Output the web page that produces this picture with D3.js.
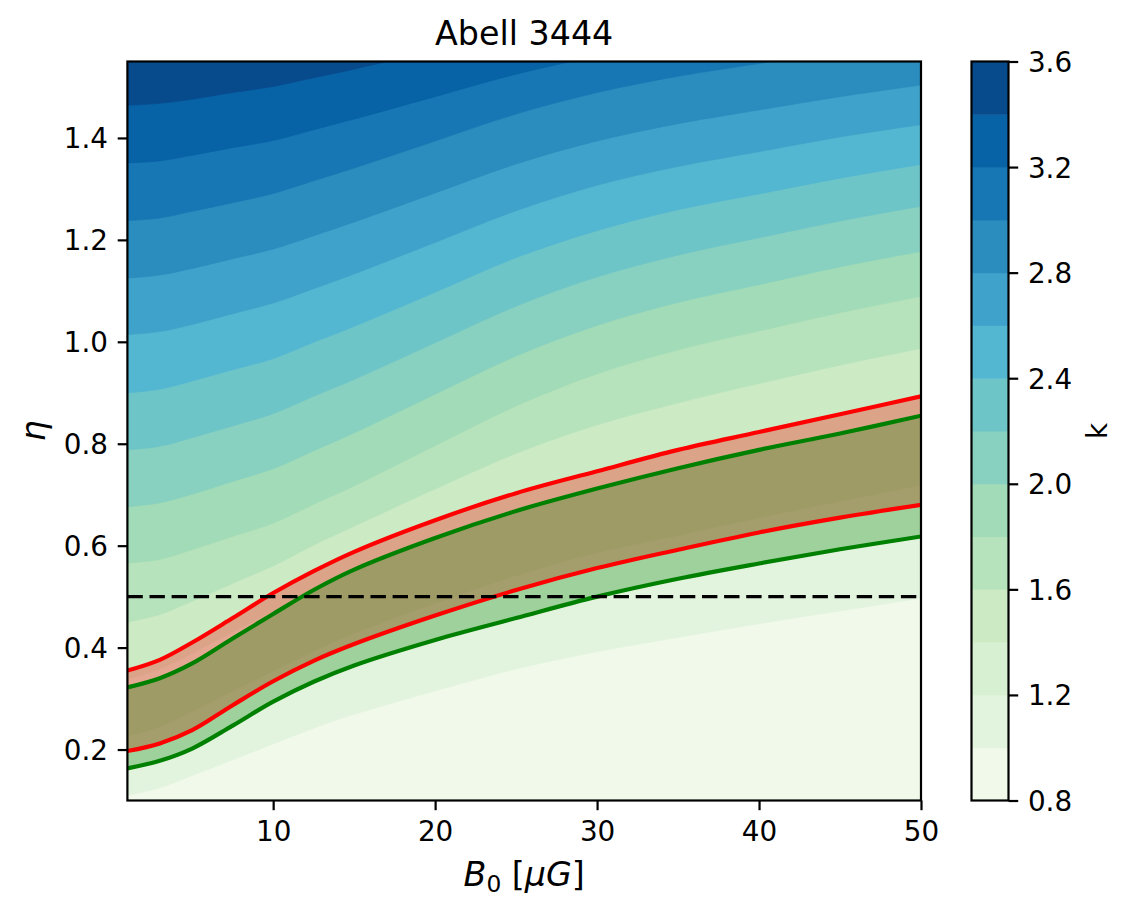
<!DOCTYPE html>
<html>
<head>
<meta charset="utf-8">
<script src="https://cdn.jsdelivr.net/npm/d3@7"></script>
<style>
  body { margin: 0; background: #fff; }
  svg { display: block; }
  text { font-family: "DejaVu Sans", sans-serif; fill: #000; }
</style>
</head>
<body>
<svg id="chart" width="1135" height="917"></svg>
<script>
// ---------------- data ----------------
const B0 = [1, 3, 5, 7.5, 10, 12.5, 15, 20, 25, 30, 35, 40, 45, 50];
const levels = [0.8, 1.0, 1.2, 1.4, 1.6, 1.8, 2.0, 2.2, 2.4, 2.6, 2.8, 3.0, 3.2, 3.4, 3.6];

// eta of each contour level line (k = 1.0 ... 3.4) at the B0 samples
const k10 = [0.110, 0.125, 0.149, 0.180, 0.211, 0.242, 0.269, 0.315, 0.358, 0.392, 0.420, 0.447, 0.472, 0.497];
const k12 = [0.226, 0.245, 0.275, 0.315, 0.354, 0.393, 0.428, 0.487, 0.541, 0.586, 0.620, 0.655, 0.687, 0.719];
const k14 = [0.338, 0.358, 0.389, 0.430, 0.472, 0.513, 0.549, 0.611, 0.667, 0.714, 0.750, 0.786, 0.819, 0.853];
const k16 = [0.450, 0.465, 0.491, 0.526, 0.560, 0.601, 0.638, 0.711, 0.781, 0.837, 0.880, 0.918, 0.954, 0.987];
const k18 = [0.566, 0.573, 0.592, 0.618, 0.644, 0.681, 0.717, 0.796, 0.874, 0.937, 0.984, 1.021, 1.057, 1.089];
const k20 = [0.676, 0.684, 0.701, 0.726, 0.751, 0.786, 0.821, 0.897, 0.972, 1.032, 1.077, 1.112, 1.147, 1.177];
const k22 = [0.788, 0.795, 0.812, 0.835, 0.859, 0.893, 0.926, 0.998, 1.070, 1.127, 1.170, 1.204, 1.237, 1.266];
const k24 = [0.900, 0.907, 0.923, 0.945, 0.967, 0.999, 1.030, 1.097, 1.165, 1.218, 1.259, 1.290, 1.321, 1.348];
const k26 = [1.014, 1.020, 1.034, 1.055, 1.076, 1.104, 1.133, 1.195, 1.257, 1.307, 1.344, 1.373, 1.402, 1.426];
const k28 = [1.125, 1.131, 1.144, 1.163, 1.182, 1.208, 1.235, 1.292, 1.349, 1.394, 1.428, 1.455, 1.481, 1.504];
const k30 = [1.238, 1.243, 1.256, 1.273, 1.291, 1.316, 1.341, 1.394, 1.447, 1.489, 1.521, 1.546, 1.571, 1.592];
const k32 = [1.351, 1.355, 1.366, 1.381, 1.395, 1.416, 1.437, 1.481, 1.525, 1.560, 1.587, 1.608, 1.628, 1.646];
const k34 = [1.464, 1.468, 1.476, 1.489, 1.501, 1.518, 1.535, 1.572, 1.609, 1.639, 1.661, 1.678, 1.695, 1.710];

// constraint bands
const redUpper   = [0.355, 0.376, 0.410, 0.458, 0.507, 0.550, 0.588, 0.650, 0.703, 0.746, 0.788, 0.823, 0.858, 0.893];
const redLower   = [0.197, 0.212, 0.238, 0.287, 0.334, 0.374, 0.407, 0.463, 0.513, 0.556, 0.592, 0.626, 0.655, 0.680];
const greenUpper = [0.322, 0.340, 0.369, 0.418, 0.466, 0.513, 0.553, 0.615, 0.668, 0.712, 0.752, 0.788, 0.820, 0.855];
const greenLower = [0.163, 0.178, 0.202, 0.247, 0.294, 0.333, 0.365, 0.415, 0.458, 0.500, 0.535, 0.565, 0.593, 0.618];

const etaRef = 0.5;

const xTicks = [10, 20, 30, 40, 50];
const yTicks = [0.2, 0.4, 0.6, 0.8, 1.0, 1.2, 1.4];
const cbTicks = [0.8, 1.2, 1.6, 2.0, 2.4, 2.8, 3.2, 3.6];

const titleText = "Abell 3444";
const cbLabel = "k";

// ---------------- style ----------------
const GnBu = ["#f7fcf0", "#e0f3db", "#ccebc5", "#a8ddb5", "#7bccc4", "#4eb3d3", "#2b8cbe", "#0868ac", "#084081"];
const cmap = d3.scaleLinear()
  .domain(d3.range(9).map(i => i / 8))
  .range(GnBu)
  .interpolate(d3.interpolateRgb)
  .clamp(true);

const P = { l: 127.4, r: 921, t: 61.5, b: 800.5 };
const CB = { l: 971.5, r: 1008.5 };
const FS = 27.8, FL = 33.3;
const TICK = 9.7, PAD = 9.7, LW = 2.2;
const CURVE = d3.curveCatmullRom.alpha(0.5);

const svg = d3.select("#chart");
svg.append("rect").attr("width", 1135).attr("height", 917).attr("fill", "#fff");

const x = d3.scaleLinear().domain([1, 50]).range([P.l, P.r]);
const y = d3.scaleLinear().domain([0.1, 1.55]).range([P.b, P.t]);

const vmin = levels[0], vmax = levels[levels.length - 1];
const bandColor = i => cmap(((levels[i] + levels[i + 1]) / 2 - vmin) / (vmax - vmin));

svg.append("defs").append("clipPath").attr("id", "clip")
  .append("rect").attr("x", P.l).attr("y", P.t).attr("width", P.r - P.l).attr("height", P.b - P.t);

const gPlot = svg.append("g").attr("clip-path", "url(#clip)");

// lowest band as background
gPlot.append("rect").attr("x", P.l).attr("y", P.t).attr("width", P.r - P.l).attr("height", P.b - P.t)
  .attr("fill", bandColor(0));

const contourLines = [k10, k12, k14, k16, k18, k20, k22, k24, k26, k28, k30, k32, k34];
const aboveArea = d3.area()
  .x((d, i) => x(B0[i]))
  .y0(d => y(d))
  .y1(() => P.t - 20)
  .curve(CURVE);

contourLines.forEach((line, j) => {
  gPlot.append("path").attr("d", aboveArea(line)).attr("fill", bandColor(j + 1))
    .attr("stroke", bandColor(j + 1)).attr("stroke-width", 0.6);
});

// bands
const bandArea = (lo, hi) => d3.area()
  .x((d, i) => x(B0[i]))
  .y0((d, i) => y(lo[i]))
  .y1((d, i) => y(hi[i]))
  .curve(CURVE)(B0);
const lineGen = d3.line().x((d, i) => x(B0[i])).y(d => y(d)).curve(CURVE);

gPlot.append("path").attr("d", bandArea(redLower, redUpper)).attr("fill", "#ff0000").attr("fill-opacity", 0.3);
gPlot.append("path").attr("d", bandArea(greenLower, greenUpper)).attr("fill", "#008000").attr("fill-opacity", 0.3);

[redUpper, redLower].forEach(s => gPlot.append("path").attr("d", lineGen(s))
  .attr("fill", "none").attr("stroke", "#ff0000").attr("stroke-width", 4.17));
[greenUpper, greenLower].forEach(s => gPlot.append("path").attr("d", lineGen(s))
  .attr("fill", "none").attr("stroke", "#008000").attr("stroke-width", 4.17));

gPlot.append("line").attr("x1", x(1)).attr("x2", x(50)).attr("y1", y(etaRef)).attr("y2", y(etaRef))
  .attr("stroke", "#000").attr("stroke-width", 3.2).attr("stroke-dasharray", "15.4,6.7");

// spines
svg.append("rect").attr("x", P.l).attr("y", P.t).attr("width", P.r - P.l).attr("height", P.b - P.t)
  .attr("fill", "none").attr("stroke", "#000").attr("stroke-width", LW);

// axes
function styleAxis(g) {
  g.select(".domain").remove();
  g.selectAll(".tick line").attr("stroke", "#000").attr("stroke-width", LW);
  g.selectAll(".tick text").attr("font-size", FS).attr("fill", "#000")
    .attr("font-family", '"DejaVu Sans", sans-serif');
}
const xAxis = svg.append("g").attr("transform", `translate(0,${P.b})`)
  .call(d3.axisBottom(x).tickValues(xTicks).tickSize(TICK).tickPadding(PAD + 1.4).tickFormat(d3.format("d")));
styleAxis(xAxis);

const yAxis = svg.append("g").attr("transform", `translate(${P.l},0)`)
  .call(d3.axisLeft(y).tickValues(yTicks).tickSize(TICK).tickPadding(PAD).tickFormat(d3.format(".1f")));
styleAxis(yAxis);
yAxis.selectAll(".tick text").attr("dy", "0.36em");

// title
svg.append("text").attr("x", (P.l + P.r) / 2).attr("y", 44.8).attr("text-anchor", "middle")
  .attr("font-size", FL).text(titleText);

// x label  B0 [muG]
const xl = svg.append("text").attr("x", (P.l + P.r) / 2).attr("y", 886).attr("text-anchor", "middle")
  .attr("font-size", FL);
xl.append("tspan").attr("font-style", "italic").text("B");
xl.append("tspan").attr("font-size", FL * 0.7).attr("dy", 6).text("0");
xl.append("tspan").attr("dy", -6).text(" [");
xl.append("tspan").attr("font-style", "italic").text("μG");
xl.append("tspan").text("]");

// y label eta
svg.append("text").attr("transform", `translate(45,${(P.t + P.b) / 2}) rotate(-90)`)
  .attr("text-anchor", "middle").attr("font-size", FL).attr("font-style", "italic").text("η");

// colorbar
const yc = d3.scaleLinear().domain([vmin, vmax]).range([P.b, P.t]);
const gcb = svg.append("g");
d3.range(levels.length - 1).forEach(i => {
  gcb.append("rect").attr("x", CB.l).attr("width", CB.r - CB.l)
    .attr("y", yc(levels[i + 1])).attr("height", yc(levels[i]) - yc(levels[i + 1]) + 0.5)
    .attr("fill", bandColor(i));
});
gcb.append("rect").attr("x", CB.l).attr("y", P.t).attr("width", CB.r - CB.l).attr("height", P.b - P.t)
  .attr("fill", "none").attr("stroke", "#000").attr("stroke-width", LW);
const cAxis = svg.append("g").attr("transform", `translate(${CB.r},0)`)
  .call(d3.axisRight(yc).tickValues(cbTicks).tickSize(TICK).tickPadding(PAD).tickFormat(d3.format(".1f")));
styleAxis(cAxis);
cAxis.selectAll(".tick text").attr("dy", "0.36em");

svg.append("text").attr("transform", `translate(1107,${(P.t + P.b) / 2}) rotate(-90)`)
  .attr("text-anchor", "middle").attr("font-size", FS).text(cbLabel);
</script>
</body>
</html>
